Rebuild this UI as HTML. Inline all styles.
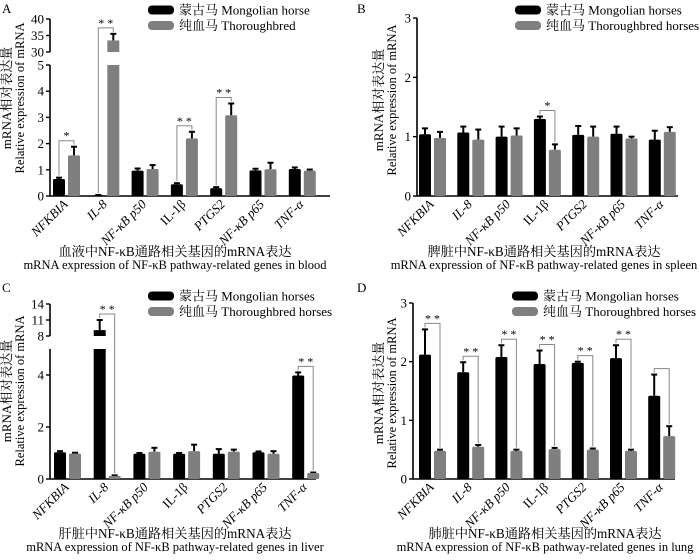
<!DOCTYPE html>
<html><head><meta charset="utf-8">
<style>
html,body{margin:0;padding:0;background:#fff;}
svg{display:block;font-family:"Liberation Serif","Noto Serif CJK SC",serif;}
</style></head>
<body>
<svg id="fig" width="700" height="560" viewBox="0 0 700 560" xmlns="http://www.w3.org/2000/svg"></svg>
<script>
const categories = ["NFKBIA","IL-8","NF-κB p50","IL-1β","PTGS2","NF-κB p65","TNF-α"];
const italicCats = [true,true,true,false,true,true,true];
const bloodMongolian = [0.65,0.03,0.97,0.45,0.30,0.98,1.03];
const bloodMongolianErr = [0.05,0.01,0.08,0.04,0.04,0.06,0.06];
const bloodThoroughbred = [1.55,33.5,1.03,2.2,3.08,1.02,0.97];
const bloodThoroughbredErr = [0.33,2.0,0.15,0.25,0.45,0.25,0.04];
const bloodSig = ["*","* *","","* *","* *","",""];
const spleenMongolian = [1.04,1.07,1.0,1.3,1.03,1.05,0.95];
const spleenMongolianErr = [0.1,0.1,0.17,0.04,0.15,0.12,0.15];
const spleenThoroughbred = [0.98,0.95,1.02,0.78,1.0,0.97,1.08];
const spleenThoroughbredErr = [0.1,0.17,0.12,0.09,0.17,0.03,0.08];
const spleenSig = ["","","","*","","",""];
const liverMongolian = [1.03,9.1,0.97,0.97,0.97,1.03,3.98];
const liverMongolianErr = [0.04,1.9,0.03,0.03,0.18,0.03,0.12];
const liverThoroughbred = [0.98,0.12,1.05,1.07,1.05,0.97,0.23];
const liverThoroughbredErr = [0.03,0.02,0.15,0.25,0.08,0.1,0.02];
const liverSig = ["","* *","","","","","* *"];
const lungMongolian = [2.12,1.82,2.08,1.96,1.98,2.06,1.42];
const lungMongolianErr = [0.43,0.17,0.2,0.23,0.02,0.22,0.36];
const lungThoroughbred = [0.48,0.55,0.48,0.51,0.5,0.48,0.73];
const lungThoroughbredErr = [0.02,0.03,0.02,0.02,0.02,0.02,0.17];
const lungSig = ["* *","* *","* *","* *","* *","* *"," "];
const bloodTicksLower = [0,1,2,3,4,5];
const bloodTicksUpper = [30,35,40];
const simpleTicks = [0,1,2,3];
const liverTicksLower = [0,2,4];
const liverTicksUpper = [8,11,14];

const NS="http://www.w3.org/2000/svg";
const svg=document.getElementById('fig');
function el(tag,attrs,parent){const e=document.createElementNS(NS,tag);for(const k in attrs)e.setAttribute(k,attrs[k]);(parent||svg).appendChild(e);return e;}

function panel(cfg){
  const g=el('g',{});
  
  
  const ax=cfg.ax,y0=cfg.y0;
  function y(v){
    if(!cfg.upper) return y0-(v-0)*(y0-cfg.yTop)/cfg.max;
    if(v<=cfg.lowMax) return y0-v*(y0-cfg.lowTop)/cfg.lowMax;
    if(v<cfg.upper.min) return cfg.lowTop;
    return cfg.upper.yb-(v-cfg.upper.min)*(cfg.upper.yb-cfg.upper.yt)/(cfg.upper.max-cfg.upper.min);
  }
  const L=el('text',{x:cfg.lx,y:cfg.ly,'font-size':13},g);L.textContent=cfg.letter;
  
  const axisG=el('g',{stroke:'#000','stroke-width':1.6,fill:'none'},g);
  
  if(cfg.upper){
    el('line',{x1:ax,y1:y0,x2:ax,y2:cfg.lowTop},axisG);
    el('line',{x1:ax,y1:cfg.upper.yb,x2:ax,y2:cfg.upper.yt},axisG);
  } else el('line',{x1:ax,y1:y0,x2:ax,y2:cfg.yTop},axisG);
  const xa=el('line',{x1:ax,y1:y0,x2:cfg.xEnd,y2:y0,stroke:'#000','stroke-width':1.6},g);
  
  const allTicks=cfg.ticks.concat(cfg.upper?cfg.upper.ticks:[]);
  allTicks.forEach(t=>{
    const ty=y(t);
    el('line',{x1:ax-4,y1:ty,x2:ax,y2:ty,stroke:'#000','stroke-width':1.4},g);
    const tx=el('text',{x:ax-6,y:ty+4.5,'font-size':13,'text-anchor':'end'},g);tx.textContent=t;
    
  });
  const yt=el('text',{transform:`translate(${cfg.ytx},${cfg.ytc}) rotate(-90)`,'font-size':12.5,'text-anchor':'middle'},g);
  
  const t1=el('tspan',{x:0,y:0,'font-size':13},yt);t1.textContent='mRNA相对表达量';
  const t2=el('tspan',{x:0,y:13},yt);t2.textContent='Relative expression of mRNA';
  const bw=12,gap=3;
  categories.forEach((c,i)=>{
    const left=cfg.gx0+i*cfg.sp;
    const series=[[cfg.a,cfg.ae,'#000','black'],[cfg.b,cfg.be,'#7f7f7f','gray']];
    const tops=[];
    series.forEach((s,k)=>{
      const v=s[0][i],e=s[1][i],bx=left+k*(bw+gap);
      const top=y(v+e);tops.push(top);
      el('line',{x1:bx+bw/2,y1:y(v),x2:bx+bw/2,y2:top,stroke:'#000','stroke-width':2},g);
      el('line',{x1:bx+bw/2-3,y1:top,x2:bx+bw/2+3,y2:top,stroke:'#000','stroke-width':2},g);
      if(cfg.upper&&v>cfg.lowMax){
        const r1=el('rect',{x:bx,y:cfg.lowTop,width:bw,height:y0-cfg.lowTop,fill:s[2]},g);
        
        const r2=el('rect',{x:bx,y:y(v),width:bw,height:cfg.upper.yb-y(v),fill:s[2]},g);
        
      } else {
        const r=el('rect',{x:bx,y:y(v),width:bw,height:Math.max(0.8,y0-y(v)),fill:s[2],rx:1.5},g);
        
      }
    });
    const sig=cfg.sig[i];
    if(sig){
      const bt=Math.min(tops[0],tops[1])-6;
      const x1=left+bw/2,x2=left+bw+gap+bw/2;
      const br=el('path',{d:`M${x1},${tops[0]-2}V${bt}H${x2}V${tops[1]-2}`,fill:'none',stroke:'#888','stroke-width':1},g);
      
      if(sig.trim()){const st=el('text',{x:(x1+x2)/2,y:bt-1,'font-size':12,'text-anchor':'middle'},g);st.textContent=sig;
      }
    }
    const cx=left+bw+gap/2+2;
    const cl=el('text',{transform:`translate(${cx},${y0+9}) rotate(-45)`,'font-size':13,'text-anchor':'end','font-style':italicCats[i]?'italic':'normal'},g);
    cl.textContent=c;
  });
  const lg=el('g',{},g);
  [['#000','蒙古马 '+cfg.lab1],['#7f7f7f','纯血马 '+cfg.lab2]].forEach((d,k)=>{
    const yy=cfg.legY+k*15.5;
    el('rect',{x:cfg.legX,y:yy-4.5,width:26,height:9,rx:4,fill:d[0]},lg);
    const lt=el('text',{x:cfg.legX+31,y:yy+4.5,'font-size':13},lg);lt.textContent=d[1];
    
  });
  const cp=el('text',{x:cfg.capX,y:cfg.capY,'text-anchor':'middle'},g);
  
  const c1=el('tspan',{x:cfg.capX,y:cfg.capY,'font-size':13.2},cp);c1.textContent=cfg.cap1;
  const c2=el('tspan',{x:cfg.capX,y:cfg.capY+13,'font-size':12.5},cp);c2.textContent='mRNA expression of NF-κB pathway-related genes in '+cfg.tissue;
}

panel({name:'panel-a-blood',letter:'A',lx:2,ly:13,ax:50,y0:196,lowMax:5,lowTop:65,
  upper:{min:30,max:40,yb:52,yt:19,ticks:bloodTicksUpper},ticks:bloodTicksLower,
  xEnd:330,gx0:53,sp:39.3,ytx:11,ytc:98,a:bloodMongolian,ae:bloodMongolianErr,b:bloodThoroughbred,be:bloodThoroughbredErr,
  sig:bloodSig,legX:148,legY:10,lab1:'Mongolian horse',lab2:'Thoroughbred',capX:175,capY:256,
  cap1:'血液中NF-κB通路相关基因的mRNA表达',tissue:'blood'});
panel({name:'panel-b-spleen',letter:'B',lx:357,ly:13,ax:417,y0:196,max:3,yTop:18,ticks:simpleTicks,
  xEnd:678,gx0:419,sp:38.3,ytx:383,ytc:100,a:spleenMongolian,ae:spleenMongolianErr,b:spleenThoroughbred,be:spleenThoroughbredErr,
  sig:spleenSig,legX:515,legY:10,lab1:'Mongolian horses',lab2:'Thoroughbred horses',capX:544,capY:256,
  cap1:'脾脏中NF-κB通路相关基因的mRNA表达',tissue:'spleen'});
panel({name:'panel-c-liver',letter:'C',lx:2,ly:292,ax:50,y0:479,lowMax:5,lowTop:349,
  upper:{min:8,max:14,yb:336,yt:304,ticks:liverTicksUpper},ticks:liverTicksLower,
  xEnd:316,gx0:54,sp:39.7,ytx:11,ytc:391,a:liverMongolian,ae:liverMongolianErr,b:liverThoroughbred,be:liverThoroughbredErr,
  sig:liverSig,legX:148,legY:296,lab1:'Mongolian horses',lab2:'Thoroughbred horses',capX:175,capY:538,
  cap1:'肝脏中NF-κB通路相关基因的mRNA表达',tissue:'liver'});
panel({name:'panel-d-lung',letter:'D',lx:357,ly:292,ax:413,y0:479,max:3,yTop:303,ticks:simpleTicks,
  xEnd:675,gx0:419,sp:38.2,ytx:383,ytc:393,a:lungMongolian,ae:lungMongolianErr,b:lungThoroughbred,be:lungThoroughbredErr,
  sig:lungSig,legX:512,legY:296,lab1:'Mongolian horses',lab2:'Thoroughbred horses',capX:545,capY:538,
  cap1:'肺脏中NF-κB通路相关基因的mRNA表达',tissue:'lung'});
</script>
</body></html>
